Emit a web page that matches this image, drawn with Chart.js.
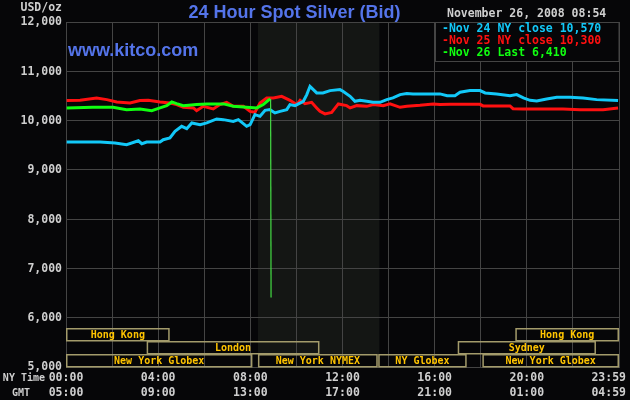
<!DOCTYPE html>
<html><head><meta charset="utf-8">
<script src="https://cdn.jsdelivr.net/npm/chart.js@4.4.0/dist/chart.umd.min.js"></script>
<style>html,body{margin:0;padding:0;background:#060608;}canvas{display:block}</style>
</head><body>
<canvas id="c" width="630" height="400"></canvas>
<script>
// ---- data (hours since 00:00 NY time, USD/oz) ----
const cyanHours = [0.03,1.48,2.13,2.63,3.14,3.29,3.5,4.08,4.22,4.51,4.73,5.02,5.24,5.46,5.82,6.11,6.54,6.83,7.26,7.48,7.63,7.84,7.99,8.06,8.2,8.42,8.64,8.85,9.07,9.29,9.58,9.72,9.94,10.3,10.45,10.59,10.88,11.15,11.46,11.89,12.02,12.33,12.54,12.76,13.05,13.32,13.63,13.92,14.19,14.5,14.79,15.06,16.23,16.54,16.88,17.1,17.53,17.97,18.19,18.69,19.27,19.56,19.85,20.14,20.43,20.86,21.3,21.88,22.44,23.03,23.96];
const cyanValues = [9565,9565,9545,9510,9590,9530,9565,9565,9612,9647,9781,9883,9836,9952,9917,9952,10033,10019,9984,10019,9964,9883,9917,9984,10120,10086,10208,10222,10155,10187,10222,10324,10303,10391,10527,10695,10561,10561,10608,10628,10594,10492,10391,10411,10391,10370,10370,10425,10460,10527,10547,10541,10541,10506,10506,10574,10608,10608,10561,10541,10506,10527,10460,10411,10399,10439,10472,10472,10460,10425,10405];

const redHours = [0.03,0.61,1.33,1.77,2.2,2.78,3.21,3.57,4.08,4.51,4.8,5.09,5.53,5.67,5.96,6.39,6.68,6.97,7.26,7.7,7.99,8.2,8.42,8.71,9.0,9.36,9.72,10.01,10.16,10.37,10.66,10.88,11.02,11.24,11.53,11.82,12.18,12.33,12.62,13.05,13.34,13.77,14.06,14.5,14.79,15.36,15.94,16.23,16.67,17.97,18.1,19.27,19.4,19.84,21.57,22.31,23.31,23.96];
const redValues = [10405,10411,10460,10425,10378,10358,10405,10411,10378,10358,10324,10269,10257,10202,10289,10236,10324,10370,10289,10289,10187,10167,10358,10460,10460,10492,10411,10324,10411,10344,10370,10257,10187,10135,10167,10338,10303,10257,10303,10289,10324,10303,10338,10269,10289,10309,10338,10324,10330,10330,10297,10297,10242,10236,10236,10222,10222,10257];

const greenHours = [0.03,1.17,2.04,2.63,3.21,3.72,4.08,4.37,4.59,4.8,5.09,5.67,6.11,6.83,7.26,7.84,8.28,8.56,8.78,8.88,8.9];
const greenValues = [10257,10269,10269,10222,10236,10202,10257,10303,10378,10344,10303,10324,10338,10338,10289,10269,10257,10324,10411,10439,6410];

// ---- labels ----
const titleText = '24 Hour Spot Silver (Bid)';
const siteText = 'www.kitco.com';
const unitText = 'USD/oz';
const dateText = 'November 26, 2008 08:54';
const legendLabels = ['-Nov 24 NY close 10,570', '-Nov 25 NY close 10,300', '-Nov 26 Last 6,410'];
const yTickValues = [12000, 11000, 10000, 9000, 8000, 7000, 6000, 5000];
const yTickLabels = ['12,000', '11,000', '10,000', '9,000', '8,000', '7,000', '6,000', '5,000'];
const xTickHours = [0, 4, 8, 12, 16, 20, 23.983];
const nyTimeLabels = ['00:00', '04:00', '08:00', '12:00', '16:00', '20:00', '23:59'];
const gmtLabels = ['05:00', '09:00', '13:00', '17:00', '21:00', '01:00', '04:59'];

// ---- trading sessions (row 0 top .. row 2 bottom) ----
const sessionNames = ['Hong Kong', 'Hong Kong', 'London', 'Sydney', 'New York Globex', 'New York NYMEX', 'NY Globex', 'New York Globex'];
const sessionRows = [0, 0, 1, 1, 2, 2, 2, 2];
const sessionStart = [0, 19.5, 3.5, 17.0, 0, 8.33, 13.55, 18.07];
const sessionEnd = [4.5, 24, 11.0, 23.0, 8.09, 13.53, 17.39, 24];
const nymexStart = 8.33, nymexEnd = 13.6;

const BG = '#060608', GRID = '#444444', TXT = '#cfcfcf';
const MONO = 'bold 11.5px "DejaVu Sans Mono", "Liberation Mono", monospace';
const MONO_S = 'bold 10px "DejaVu Sans Mono", "Liberation Mono", monospace';

const pts = (hs, vs) => hs.map((h, i) => ({x: h, y: vs[i]}));

const deco = {
  id: 'deco',
  beforeDraw(chart) {
    const {ctx, chartArea: a, scales: {x, y}} = chart;
    ctx.save();
    ctx.fillStyle = BG;
    ctx.fillRect(0, 0, chart.width, chart.height);
    const rowTop = a.bottom - 13 * 3;
    ctx.fillStyle = '#141614';
    ctx.fillRect(x.getPixelForValue(nymexStart), a.top, x.getPixelForValue(nymexEnd) - x.getPixelForValue(nymexStart), rowTop + 26 - a.top);
    ctx.restore();
  },
  afterDraw(chart) {
    const {ctx, chartArea: a, scales: {x, y}} = chart;
    ctx.save();
    // sessions
    const rowH = 13, rowTop = a.bottom - rowH * 3;
    ctx.font = MONO_S;
    ctx.textAlign = 'center';
    ctx.textBaseline = 'middle';
    for (let i = 0; i < sessionNames.length; i++) {
      const x0 = x.getPixelForValue(sessionStart[i]);
      const x1 = x.getPixelForValue(sessionEnd[i]);
      const y0 = rowTop + sessionRows[i] * rowH;
      ctx.strokeStyle = '#a39b6b';
      ctx.lineWidth = 1.5;
      ctx.strokeRect(x0 + 0.75, y0 + 0.75, x1 - x0 - 1.5, rowH - 1);
      ctx.fillStyle = '#ffc400';
      ctx.fillText(sessionNames[i], (x0 + x1) / 2, y0 + rowH / 2 + 0.5);
    }
    // legend box
    ctx.font = MONO;
    const lx = x.getPixelForValue(16);
    ctx.fillStyle = BG;
    ctx.fillRect(lx + 1, a.top + 1, a.right - lx - 1, 39);
    ctx.strokeStyle = GRID;
    ctx.lineWidth = 1;
    ctx.strokeRect(Math.round(lx) + 0.5, a.top + 0.5, a.right - Math.round(lx) - 0.5, 39);
    const lcol = ['#12c8f8', '#ff1010', '#10ff10'];
    ctx.textAlign = 'left';
    legendLabels.forEach((t, i) => {
      ctx.fillStyle = lcol[i];
      ctx.fillText(t, 442, a.top + 7.5 + i * 12);
    });
    // y labels
    ctx.fillStyle = TXT;
    ctx.textAlign = 'right';
    yTickValues.forEach((v, i) => ctx.fillText(yTickLabels[i], 62, y.getPixelForValue(v) + 0.5));
    ctx.fillText(unitText, 62, 8);
    // x labels
    ctx.textAlign = 'center';
    xTickHours.forEach((h, i) => {
      let px = x.getPixelForValue(h);
      const w = ctx.measureText(nyTimeLabels[i]).width;
      if (px + w / 2 > 626) px = 626 - w / 2;
      ctx.fillText(nyTimeLabels[i], px, 378.5);
      ctx.fillText(gmtLabels[i], px, 393.5);
    });
    ctx.font = MONO_S;
    ctx.textAlign = 'right';
    ctx.fillText('NY Time', 45, 378.5);
    ctx.textAlign = 'center';
    ctx.fillText('GMT', 21, 393.5);
    // date
    ctx.font = MONO;
    ctx.textAlign = 'left';
    ctx.fillText(dateText, 447, 14.5);
    // title & site
    ctx.fillStyle = '#5474ea';
    ctx.font = 'bold 18px "Liberation Sans", Arial, sans-serif';
    ctx.textAlign = 'center';
    ctx.textBaseline = 'alphabetic';
    ctx.fillText(titleText, 294.5, 17.5);
    ctx.textAlign = 'left';
    ctx.fillText(siteText, 68, 56);
    ctx.restore();
  }
};

new Chart(document.getElementById('c'), {
  type: 'line',
  data: {
    datasets: [
      {label: 'Nov 26', data: pts(greenHours, greenValues), borderColor: '#10ff10', borderWidth: 3, pointRadius: 0, order: 0,
       segment: {borderWidth: c => c.p1.parsed.y < 9000 ? 1.2 : 3, borderColor: c => c.p1.parsed.y < 9000 ? '#44dd44' : undefined}},
      {label: 'Nov 24', data: pts(cyanHours, cyanValues), borderColor: '#12c8f8', borderWidth: 3, pointRadius: 0, order: 1},
      {label: 'Nov 25', data: pts(redHours, redValues), borderColor: '#ff1010', borderWidth: 3, pointRadius: 0, order: 2}
    ]
  },
  options: {
    responsive: false, animation: false, devicePixelRatio: 1,
    layout: {padding: {left: 66, right: 11, top: 22, bottom: 33}},
    plugins: {legend: {display: false}, tooltip: {enabled: false}},
    elements: {line: {tension: 0, borderJoinStyle: 'miter'}},
    scales: {
      x: {type: 'linear', min: 0, max: 24, afterFit: s => { s.height = 0; },
          ticks: {display: false, stepSize: 2}, grid: {color: GRID, drawTicks: false}, border: {display: true, color: GRID}},
      y: {type: 'linear', min: 5000, max: 12000, afterFit: s => { s.width = 0; },
          ticks: {display: false, stepSize: 1000}, grid: {color: GRID, drawTicks: false}, border: {display: true, color: GRID}}
    }
  },
  plugins: [deco]
});
</script>
</body></html>
